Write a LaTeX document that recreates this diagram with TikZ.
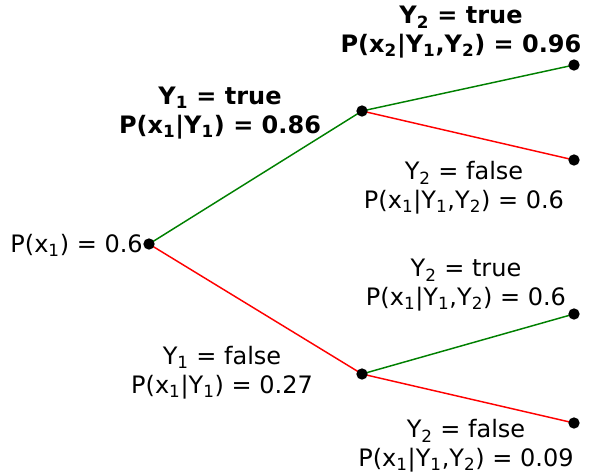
\documentclass[tikz,border=0pt]{standalone}
\usepackage{fontspec}
\setmainfont{DejaVu Sans}
\usetikzlibrary{backgrounds}
\begin{document}
\begin{tikzpicture}[x=0.75pt,y=-0.75pt,
  dot/.style={circle,fill=black,inner sep=0pt,minimum size=8.5pt},
  yes/.style={draw=green!50!black,line width=1.1pt},
  no/.style={draw=red,line width=1.1pt},
  lbl/.style={align=center,anchor=base,inner sep=0pt,font=\fontsize{18}{21.3}\selectfont},
  blbl/.style={lbl,font=\fontsize{18}{21.3}\selectfont\bfseries}]
\useasboundingbox (0,0) rectangle (589,475);
\node[dot] (r) at (149,244) {};
\node[dot] (a) at (362,111) {};
\node[dot] (b) at (362,374) {};
\node[dot] (aa) at (574,65) {};
\node[dot] (ab) at (574,160) {};
\node[dot] (ba) at (574,314) {};
\node[dot] (bb) at (574,423) {};
\begin{scope}[on background layer]
\draw[yes] (r.center) -- (a.center);
\draw[no] (r.center) -- (b.center);
\draw[yes] (a.center) -- (aa.center);
\draw[no] (a.center) -- (ab.center);
\draw[yes] (b.center) -- (ba.center);
\draw[no] (b.center) -- (bb.center);
\end{scope}
\node[lbl,anchor=base east] (lr) at (143,252) {P(x\textsubscript{1}) = 0.6};
\node[blbl] (la) at (220,133) {Y\textsubscript{1} = true\\P(x\textsubscript{1}|Y\textsubscript{1}) = 0.86};
\node[lbl] (lb) at (222,393) {Y\textsubscript{1} = false\\P(x\textsubscript{1}|Y\textsubscript{1}) = 0.27};
\node[blbl] (laa) at (461,52) {Y\textsubscript{2} = true\\P(x\textsubscript{2}|Y\textsubscript{1},Y\textsubscript{2}) = 0.96};
\node[lbl] (lab) at (464,208) {Y\textsubscript{2} = false\\P(x\textsubscript{1}|Y\textsubscript{1},Y\textsubscript{2}) = 0.6};
\node[lbl] (lba) at (466,305) {Y\textsubscript{2} = true\\P(x\textsubscript{1}|Y\textsubscript{1},Y\textsubscript{2}) = 0.6};
\node[lbl] (lbb) at (466,466) {Y\textsubscript{2} = false\\P(x\textsubscript{1}|Y\textsubscript{1},Y\textsubscript{2}) = 0.09};
\end{tikzpicture}
\end{document}
